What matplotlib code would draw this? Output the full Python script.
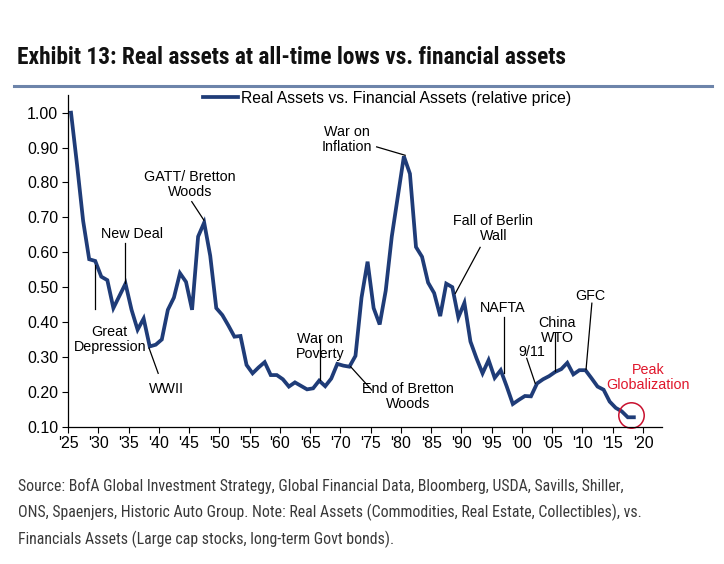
import numpy as np
import matplotlib.pyplot as plt
from matplotlib.ticker import FixedLocator

# data (one value per year, 1925-2018)
relative_price = [
    1.00, 0.85, 0.69, 0.58, 0.575, 0.53, 0.52, 0.44, 0.475, 0.51,     # 1925-1934
    0.435, 0.378, 0.41, 0.33, 0.335, 0.35, 0.435, 0.47, 0.54, 0.515,  # 1935-1944
    0.435, 0.645, 0.685, 0.59, 0.44, 0.42, 0.39, 0.358, 0.36, 0.277,  # 1945-1954
    0.253, 0.27, 0.285, 0.248, 0.248, 0.236, 0.215, 0.227, 0.217, 0.207,  # 1955-1964
    0.21, 0.232, 0.216, 0.238, 0.28, 0.275, 0.272, 0.303, 0.47, 0.573,  # 1965-1974
    0.44, 0.393, 0.49, 0.645, 0.76, 0.875, 0.825, 0.615, 0.587, 0.513,  # 1975-1984
    0.483, 0.417, 0.51, 0.50, 0.413, 0.455, 0.344, 0.296, 0.253, 0.291,  # 1985-1994
    0.24, 0.262, 0.215, 0.165, 0.177, 0.188, 0.187, 0.224, 0.236, 0.245,  # 1995-2004
    0.257, 0.265, 0.283, 0.25, 0.262, 0.262, 0.239, 0.215, 0.206, 0.172,  # 2005-2014
    0.154, 0.144, 0.127, 0.127,                                       # 2015-2018
]
years = np.arange(1925, 1925 + len(relative_price))
tick_years = list(range(1925, 2021, 5))
tick_labels = ["'" + str(y)[2:] for y in tick_years]
y_ticks = [0.1, 0.2, 0.3, 0.4, 0.5, 0.6, 0.7, 0.8, 0.9, 1.0]

NAVY = '#1f3c78'
SANS = ['Liberation Sans', 'DejaVu Sans']
NARROW = ['Roboto Condensed', 'Open Sans Condensed', 'Liberation Sans Narrow', 'DejaVu Sans']

plt.rcParams['font.family'] = SANS

fig = plt.figure(figsize=(7.24, 5.64), dpi=100)
ax = fig.add_axes([68 / 724, 1 - 426.7 / 564, 593.7 / 724, 331.7 / 564])

# category-style axis: each year sits in the middle of its slot
ax.plot(years + 0.5, relative_price, color=NAVY, lw=2.7, solid_joinstyle='miter',
        label='Real Assets vs. Financial Assets (relative price)')

ax.set_xlim(1925, 2023.1)
ax.set_ylim(0.1, 1.0507)
ax.xaxis.set_major_locator(FixedLocator(tick_years))
ax.set_xticklabels(tick_labels)
ax.set_yticks(y_ticks)
ax.set_yticklabels(['%.2f' % v for v in y_ticks])
ax.tick_params(axis='both', direction='out', length=4, width=0.8, labelsize=11.5,
               colors='black', pad=3)
ax.spines['top'].set_visible(False)
ax.spines['right'].set_visible(False)
for s in ['left', 'bottom']:
    ax.spines[s].set_linewidth(0.9)

ax.legend(loc='center left', bbox_to_anchor=(203 / 724, 1 - 98 / 564),
          bbox_transform=fig.transFigure, frameon=False, borderpad=0,
          borderaxespad=0, handlelength=2.2, handletextpad=0.2, fontsize=11.3)


def note(text, tx, ty, line, color='black'):
    ax.text(tx, ty, text, ha='center', va='center', fontsize=10.3, color=color,
            linespacing=1.1)
    if line is not None:
        ax.plot(line[0], line[1], color='black', lw=0.9)


note('Great\nDepression', 1931.9, 0.351, ([1929.45, 1929.45], [0.563, 0.437]))
note('New Deal', 1935.5, 0.652, ([1934.4, 1934.4], [0.627, 0.511]))
note('GATT/ Bretton\nWoods', 1945.2, 0.795, ([1945.45, 1947.45], [0.745, 0.692]))
note('WWII', 1941.3, 0.207, ([1938.4, 1939.9], [0.325, 0.253]))
note('War on\nPoverty', 1966.7, 0.329, ([1966.65, 1966.65], [0.35, 0.234]))
note('End of Bretton\nWoods', 1981.2, 0.186, ([1971.7, 1975.2], [0.272, 0.205]))
note('War on\nInflation', 1971.1, 0.924, ([1976.0, 1980.7], [0.902, 0.878]))
note('Fall of Berlin\nWall', 1995.3, 0.669, ([1993.1, 1989.0], [0.614, 0.482]))
note('NAFTA', 1996.9, 0.439, ([1997.1, 1997.1], [0.413, 0.253]))
note('9/11', 2001.6, 0.315, ([2000.8, 2002.2], [0.296, 0.224]))
note('China\nWTO', 2005.8, 0.375, ([2005.5, 2005.5], [0.368, 0.260]))
note('GFC', 2011.3, 0.474, ([2011.56, 2010.6], [0.454, 0.264]))
note('Peak\nGlobalization', 2020.8, 0.241, None, color='#e0162b')

# red ring around the latest reading
ax.plot([years[-1]], [relative_price[-1] + 0.007], marker='o', ms=18.3, mfc='none',
        mec='#c8102e', mew=1.1, clip_on=False)

fig.text(17 / 724, 1 - 57 / 564, 'Exhibit 13: Real assets at all-time lows vs. financial assets',
         ha='left', va='center', fontsize=16.8, fontweight='bold', family=NARROW,
         fontstretch='condensed', color='#111111')
fig.add_artist(plt.Line2D([14 / 724, 712 / 724], [1 - 85.5 / 564, 1 - 85.5 / 564],
                          color='#6d84aa', lw=2.2))

footer = ('Source: BofA Global Investment Strategy, Global Financial Data, Bloomberg, USDA, Savills, Shiller,\n'
          'ONS, Spaenjers, Historic Auto Group. Note: Real Assets (Commodities, Real Estate, Collectibles), vs.\n'
          'Financials Assets (Large cap stocks, long-term Govt bonds).')
fig.text(18 / 724, 1 - 478 / 564, footer, ha='left', va='top', fontsize=11.4,
         family=NARROW, fontstretch='condensed', color='#3a3a3a', linespacing=1.72)

plt.savefig('out.png', dpi=100)
